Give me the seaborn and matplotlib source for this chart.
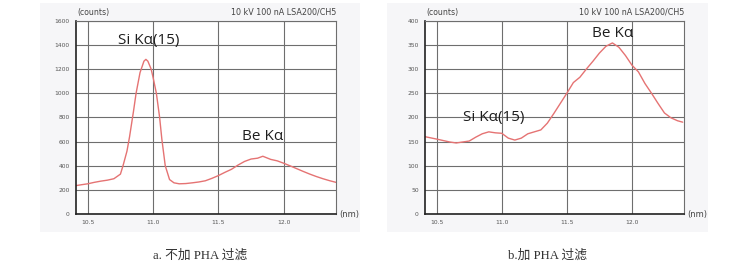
import numpy as np
import pandas as pd
import matplotlib
matplotlib.use("Agg")
import matplotlib.pyplot as plt
import seaborn as sns
from matplotlib.patches import Rectangle
from matplotlib.ticker import MultipleLocator

sns.set_style("white")
plt.rcParams['font.family'] = ['DejaVu Sans', 'Noto Sans CJK SC']

# Panel a: without PHA filter
wl_a = [10.41, 10.45, 10.5, 10.55, 10.6, 10.65, 10.7, 10.75, 10.77, 10.8, 10.82, 10.85, 10.87,
        10.9, 10.93, 10.945, 10.96, 10.985, 11.0, 11.025, 11.05, 11.067, 11.093, 11.126, 11.16,
        11.2, 11.25, 11.3, 11.35, 11.4, 11.45, 11.5, 11.55, 11.6, 11.65, 11.7, 11.75, 11.8,
        11.84, 11.9, 11.95, 12.0, 12.05, 12.1, 12.15, 12.2, 12.25, 12.3, 12.35, 12.4]
counts_a = [235, 242, 250, 262, 272, 280, 292, 330, 400, 520, 640, 850, 1000,
            1170, 1265, 1280, 1265, 1200, 1130, 1000, 800, 620, 400, 285, 258,
            250, 252, 258, 265, 275, 295, 318, 345, 370, 405, 435, 455, 462,
            478, 452, 440, 420, 398, 375, 352, 330, 310, 292, 276, 262]

# Panel b: with PHA filter
wl_b = [10.41, 10.5, 10.55, 10.6, 10.65, 10.7, 10.75, 10.8, 10.85, 10.9, 10.95, 11.0, 11.05,
        11.1, 11.15, 11.2, 11.25, 11.3, 11.35, 11.4, 11.45, 11.5, 11.55, 11.6, 11.65, 11.7,
        11.75, 11.8, 11.85, 11.9, 11.95, 12.0, 12.05, 12.1, 12.15, 12.2, 12.25, 12.3, 12.35, 12.39]
counts_b = [160, 155, 152, 149, 147, 149, 151, 159, 166, 170, 168, 167, 157,
            153, 157, 166, 170, 174, 188, 208, 229, 250, 272, 283, 300, 316,
            333, 347, 354, 345, 328, 308, 294, 270, 250, 229, 209, 199, 193, 190]

y_ticks_a = [0, 200, 400, 600, 800, 1000, 1200, 1400, 1600]
y_ticks_b = [0, 50, 100, 150, 200, 250, 300, 350, 400]
x_ticks = [10.5, 11.0, 11.5, 12.0]
x_ticklabels = ["10.5", "11.0", "11.5", "12.0"]

header = "10 kV 100 nA LSA200/CH5"
captions = ["a. 不加 PHA 过滤", "b.加 PHA 过滤"]
peak_labels_a = [("Si Kα(15)", 10.97, 1440), ("Be Kα", 11.84, 645)]
peak_labels_b = [("Be Kα", 11.85, 373), ("Si Kα(15)", 10.94, 200)]

W, H = 756, 273
fig = plt.figure(figsize=(W / 100, H / 100), dpi=100)
fig.patch.set_facecolor("white")

# light panel backgrounds
for (x0, y0, x1, y1) in [(40, 3, 360, 232), (387, 3, 708, 232)]:
    fig.patches.append(Rectangle((x0 / W, 1 - y1 / H), (x1 - x0) / W, (y1 - y0) / H,
                                 transform=fig.transFigure, facecolor="#f6f6f8",
                                 edgecolor="none", zorder=-10))

axes_pos = [(76, 336), (425, 684)]
top_px, bot_px = 20.7, 214
line_color = "#e57373"
grid_color = "#6e6e6e"

datasets = [
    (wl_a, counts_a, y_ticks_a, peak_labels_a, 200, captions[0]),
    (wl_b, counts_b, y_ticks_b, peak_labels_b, 548, captions[1]),
]

for (lpx, rpx), (wl, cnt, yt, labels, cap_x, cap) in zip(axes_pos, datasets):
    ax = fig.add_axes([lpx / W, 1 - bot_px / H, (rpx - lpx) / W, (bot_px - top_px) / H])
    ax.set_zorder(5)
    ax.set_facecolor("white")
    df = pd.DataFrame({"nm": wl, "counts": cnt})
    sns.lineplot(data=df, x="nm", y="counts", ax=ax, color=line_color, linewidth=1.0)
    ax.set_xlim(10.41, 12.40)
    ax.set_ylim(yt[0], yt[-1])
    ax.set_xticks(x_ticks)
    ax.set_xticklabels(x_ticklabels)
    ax.set_yticks(yt)
    ax.set_yticklabels([str(v) for v in yt])
    ax.xaxis.set_minor_locator(MultipleLocator(0.1))
    ax.yaxis.set_minor_locator(MultipleLocator((yt[1] - yt[0]) / 10))
    ax.grid(True, which="major", color=grid_color, linewidth=0.8)
    ax.set_xlabel("")
    ax.set_ylabel("")
    ax.tick_params(axis="both", which="major", direction="out", length=2.5, width=0.6,
                   labelsize=4.3, labelcolor="#555555", color="#333333", pad=2)
    ax.tick_params(axis="both", which="minor", direction="in", length=2, width=0.6,
                   color="#333333")
    ax.tick_params(axis="x", which="both", top=False)
    ax.tick_params(axis="y", which="both", right=False)
    for s in ["left", "bottom"]:
        ax.spines[s].set_color("#222222")
        ax.spines[s].set_linewidth(1.2)
    for s in ["top", "right"]:
        ax.spines[s].set_color(grid_color)
        ax.spines[s].set_linewidth(0.8)
    ax.text(0.005, 1.02, "(counts)", transform=ax.transAxes, fontsize=5.6,
            color="#444444", ha="left", va="bottom")
    ax.text(1.0, 1.02, header, transform=ax.transAxes, fontsize=5.8,
            color="#444444", ha="right", va="bottom")
    ax.text(1.012, 0.0, "(nm)", transform=ax.transAxes, fontsize=6,
            color="#444444", ha="left", va="center")
    for txt, xv, yv in labels:
        ax.text(xv, yv, txt, fontsize=11, color="#1e1e1e", ha="center", va="center",
                family=["Open Sans", "DejaVu Sans"])
    fig.text(cap_x / W, 1 - 256 / H, cap, fontsize=9.2, color="#333333",
             ha="center", va="center", family=["Liberation Serif", "Noto Sans CJK SC"])

fig.savefig("out.png", dpi=100, facecolor="white")
